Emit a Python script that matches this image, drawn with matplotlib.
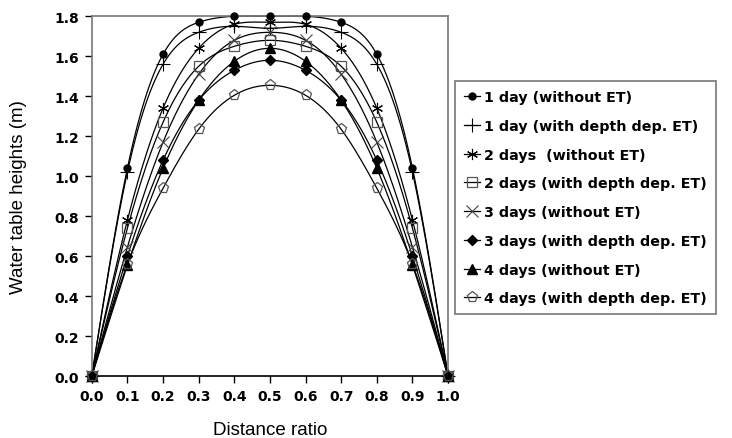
import numpy as np
import matplotlib
matplotlib.use('Agg')
import matplotlib.pyplot as plt

plt.rcParams['font.family'] = ['Liberation Sans', 'DejaVu Sans']

# 数据：距离比 与 各工况的地下水位高度 (m)
x = [0.0, 0.1, 0.2, 0.3, 0.4, 0.5, 0.6, 0.7, 0.8, 0.9, 1.0]
day1_no_et = [0, 1.04, 1.61, 1.77, 1.80, 1.80, 1.80, 1.77, 1.61, 1.04, 0]
day1_et = [0, 1.02, 1.56, 1.72, 1.75, 1.74, 1.75, 1.72, 1.56, 1.02, 0]
day2_no_et = [0, 0.78, 1.34, 1.64, 1.76, 1.77, 1.76, 1.64, 1.34, 0.78, 0]
day2_et = [0, 0.74, 1.27, 1.55, 1.65, 1.68, 1.65, 1.55, 1.27, 0.74, 0]
day3_no_et = [0, 0.645, 1.17, 1.51, 1.68, 1.72, 1.68, 1.51, 1.17, 0.645, 0]
day3_et = [0, 0.60, 1.08, 1.38, 1.53, 1.58, 1.53, 1.38, 1.08, 0.60, 0]
day4_no_et = [0, 0.555, 1.04, 1.38, 1.575, 1.64, 1.575, 1.38, 1.04, 0.555, 0]
day4_et = [0, 0.56, 0.94, 1.235, 1.405, 1.455, 1.405, 1.235, 0.94, 0.56, 0]

labels = ['1 day (without ET)', '1 day (with depth dep. ET)',
          '2 days  (without ET)', '2 days (with depth dep. ET)',
          '3 days (without ET)', '3 days (with depth dep. ET)',
          '4 days (without ET)', '4 days (with depth dep. ET)']
series = [day1_no_et, day1_et, day2_no_et, day2_et,
          day3_no_et, day3_et, day4_no_et, day4_et]

# 标记样式
styles = [
    dict(marker='o', ms=5, mfc='black', mec='black'),
    dict(marker='+', ms=10, mew=0.8, mec='black'),
    dict(marker=(6, 2, 0), ms=8, mew=0.8, mec='black'),
    dict(marker='s', ms=7, mfc='none', mec='#555555', mew=0.9),
    dict(marker='x', ms=8, mew=0.8, mec='#444444'),
    dict(marker='D', ms=5, mfc='black', mec='black'),
    dict(marker='^', ms=6.5, mfc='black', mec='black'),
    dict(marker='p', ms=8, mfc='none', mec='#555555', mew=0.9),
]

BOLD = dict(family='DejaVu Sans', weight='bold')


def natural_spline(xs, ys, n=400):
    # 自然三次样条，仅用于画平滑曲线
    xs = np.asarray(xs, float)
    ys = np.asarray(ys, float)
    k = len(xs)
    h = np.diff(xs)
    A = np.zeros((k, k))
    b = np.zeros(k)
    A[0, 0] = 1
    A[-1, -1] = 1
    for i in range(1, k - 1):
        A[i, i - 1] = h[i - 1]
        A[i, i] = 2 * (h[i - 1] + h[i])
        A[i, i + 1] = h[i]
        b[i] = 6 * ((ys[i + 1] - ys[i]) / h[i] - (ys[i] - ys[i - 1]) / h[i - 1])
    M = np.linalg.solve(A, b)
    xx = np.linspace(xs[0], xs[-1], n)
    idx = np.clip(np.searchsorted(xs, xx) - 1, 0, k - 2)
    x0, x1 = xs[idx], xs[idx + 1]
    hh = x1 - x0
    t0 = x1 - xx
    t1 = xx - x0
    yy = (M[idx] * t0 ** 3 + M[idx + 1] * t1 ** 3) / (6 * hh) \
        + (ys[idx] / hh - M[idx] * hh / 6) * t0 \
        + (ys[idx + 1] / hh - M[idx + 1] * hh / 6) * t1
    return xx, yy


fig = plt.figure(figsize=(7.32, 4.39), dpi=100)
ax = fig.add_axes([0.1253, 0.1405, 0.4869, 0.8201])

handles = []
for ys, st, lab in zip(series, styles, labels):
    xx, yy = natural_spline(x, ys)
    ax.plot(xx, yy, color='black', lw=0.9, clip_on=False)
    ax.plot(x, ys, ls='none', clip_on=False, zorder=3, **st)
    h, = ax.plot([], [], color='black', lw=0.9, label=lab, **st)
    handles.append(h)

ax.set_xlim(0, 1.0)
ax.set_ylim(0, 1.8)
xt = np.arange(0, 1.01, 0.1)
yt = np.arange(0, 1.81, 0.2)
ax.set_xticks(xt)
ax.set_yticks(yt)
ax.set_xticklabels([f'{v:.1f}' for v in xt], fontsize=10, **BOLD)
ax.set_yticklabels([f'{v:.1f}' for v in yt], fontsize=10, **BOLD)
ax.tick_params(direction='out', length=5, width=1, colors='black', pad=4)

for side in ['left', 'top', 'right']:
    ax.spines[side].set_color('#777777')
    ax.spines[side].set_linewidth(1.2)
ax.spines['bottom'].set_color('black')
ax.spines['bottom'].set_linewidth(1.2)

ax.set_xlabel('Distance ratio', fontsize=13.5, labelpad=13)
ax.set_ylabel('Water table heights (m)', fontsize=13.5, labelpad=20)

leg = fig.legend(handles=handles, loc='upper left',
                 bbox_to_anchor=(0.6216, 0.8132), borderaxespad=0,
                 frameon=True, fancybox=False, edgecolor='#555555',
                 prop={'family': 'DejaVu Sans', 'weight': 'bold', 'size': 10.3},
                 handlelength=1.1, handletextpad=0.3,
                 labelspacing=1.03, borderpad=0.64)
leg.get_frame().set_linewidth(1.2)

fig.savefig('out.png', dpi=100, facecolor='white')
